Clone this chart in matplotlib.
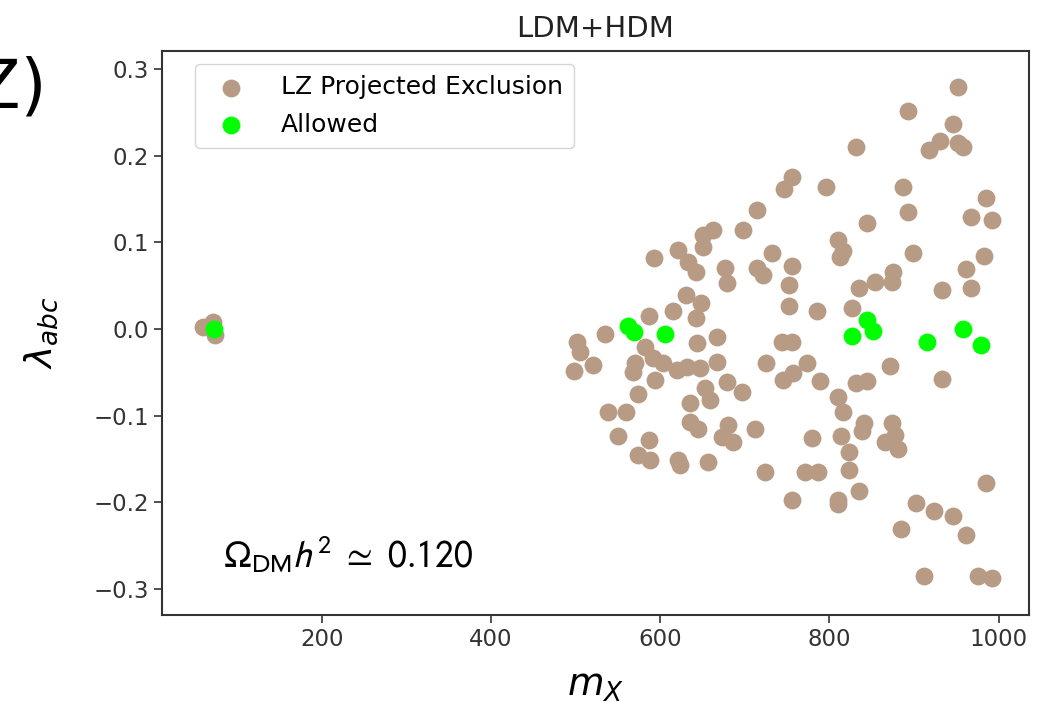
"""
LDM+HDM scan: LZ projected exclusion vs allowed points
"""
import matplotlib
matplotlib.use("Agg")
import matplotlib.pyplot as plt

# points excluded by LZ (m_X, lambda_abc)
excl_m = [59, 71, 74,
          714, 662, 650, 650, 698, 621, 633, 642, 593, 676, 679, 714, 630, 648,
          642, 615, 587, 535, 502, 667, 643, 505, 520, 498, 582, 591, 570, 568,
          603, 620, 632, 647, 667, 594, 574, 653, 659, 635, 679, 697, 635, 645,
          680, 673, 686, 712, 538, 559, 550, 587, 574, 588, 621, 623, 656, 724,
          952, 893, 946, 931, 918, 952, 958, 832, 756, 746, 796, 887, 985, 893,
          967, 992, 844, 810, 816, 812, 732, 721, 756, 752, 752, 785, 899, 983,
          961, 967, 933, 875, 874, 854, 835, 827,
          744, 756, 725, 773, 745, 757, 789, 810, 816, 832, 844, 872, 933, 841,
          838, 874, 877, 866, 881, 779, 814, 823, 771, 786, 823, 835, 756, 810,
          810, 985, 902, 924, 946, 885, 961, 912, 976, 992]
excl_lam = [0.002, 0.008, -0.007,
            0.137, 0.114, 0.108, 0.095, 0.114, 0.091, 0.077, 0.066, 0.082, 0.070,
            0.053, 0.070, 0.039, 0.030, 0.013, 0.021, 0.015, -0.006, -0.015,
            -0.009, -0.016, -0.027, -0.042, -0.048, -0.021, -0.033, -0.039,
            -0.050, -0.039, -0.047, -0.044, -0.045, -0.038, -0.059, -0.075,
            -0.068, -0.082, -0.085, -0.061, -0.073, -0.107, -0.116, -0.111,
            -0.125, -0.131, -0.116, -0.096, -0.096, -0.123, -0.128, -0.146,
            -0.151, -0.151, -0.157, -0.153, -0.165,
            0.279, 0.251, 0.236, 0.217, 0.206, 0.215, 0.210, 0.210, 0.175, 0.161,
            0.164, 0.164, 0.151, 0.135, 0.129, 0.126, 0.122, 0.103, 0.090, 0.083,
            0.088, 0.062, 0.073, 0.051, 0.027, 0.021, 0.088, 0.084, 0.069, 0.047,
            0.045, 0.066, 0.054, 0.054, 0.047, 0.024,
            -0.015, -0.015, -0.039, -0.039, -0.059, -0.051, -0.060, -0.078,
            -0.096, -0.062, -0.060, -0.043, -0.058, -0.108, -0.118, -0.108,
            -0.122, -0.131, -0.138, -0.126, -0.123, -0.142, -0.165, -0.165,
            -0.163, -0.187, -0.197, -0.197, -0.202, -0.178, -0.201, -0.210,
            -0.216, -0.231, -0.238, -0.285, -0.285, -0.287]

# allowed points
ok_m = [72, 562, 569, 606, 844, 851, 827, 915, 958, 979]
ok_lam = [0.000, 0.003, -0.003, -0.006, 0.010, -0.002, -0.008, -0.015, 0.000, -0.018]

fig = plt.figure(figsize=(10.43, 7.02), dpi=100)
ax = fig.add_axes([0.1553, 0.1239, 0.8313, 0.8035])

ax.scatter(excl_m, excl_lam, s=165, color='#b89b84', linewidths=0,
           label='LZ Projected Exclusion')
ax.scatter(ok_m, ok_lam, s=165, color='#00ff00', linewidths=0,
           label='Allowed')

ax.set_xlim(11, 1036)
ax.set_ylim(-0.33, 0.3206)
ax.set_xticks([200, 400, 600, 800, 1000])
ax.set_yticks([-0.3, -0.2, -0.1, 0.0, 0.1, 0.2, 0.3])
ax.tick_params(labelsize=16.5, length=6, width=1.2, colors='#333333',
               labelcolor='#333333')
for sp in ax.spines.values():
    sp.set_color('#333333')
    sp.set_linewidth(1.5)

ax.set_title('LDM+HDM', fontsize=21, color='#222222', pad=10)
ax.set_xlabel(r'$m_X$', fontsize=27, labelpad=12)
ax.set_ylabel(r'$\lambda_{abc}$', fontsize=27, labelpad=24)

ax.legend(loc='upper left', bbox_to_anchor=(0.038, 0.977), borderaxespad=0,
          fontsize=18, frameon=True, handletextpad=1.0, borderpad=0.45,
          labelspacing=0.55, scatterpoints=1)

ax.text(0.070, 0.083, r'$\Omega_{\rm DM}h^2\ \simeq\ 0.120$', transform=ax.transAxes,
        fontsize=27, va='baseline', ha='left', math_fontfamily='stixsans')

# cropped panel label from the original figure
fig.text(46 / 1043, 1 - 108 / 702, 'Z)', fontsize=48, ha='right', va='baseline')

fig.savefig('out.png', dpi=100)
